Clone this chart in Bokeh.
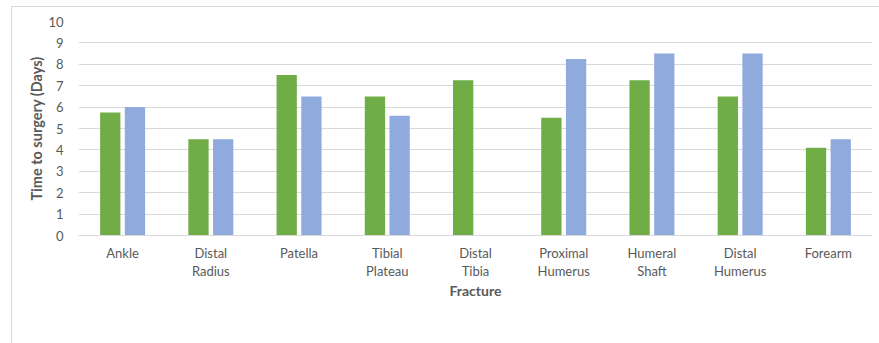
from bokeh.plotting import figure
from bokeh.models import (ColumnDataSource, FactorRange, Range1d, FixedTicker,
                          Legend, LegendItem)
from bokeh.transform import dodge
from bokeh.embed import file_html
from bokeh.resources import INLINE

# Mean time to surgery (days) by fracture type
fractures = ["Ankle", "Distal\nRadius", "Patella", "Tibial\nPlateau", "Distal\nTibia",
             "Proximal\nHumerus", "Humeral\nShaft", "Distal\nHumerus", "Forearm"]
young_adults = [5.75, 4.5, 7.5, 6.5, 7.25, 5.5, 7.25, 6.5, 4.1]
older_adults = [6.0, 4.5, 6.5, 5.6, 0.0, 8.25, 8.5, 8.5, 4.5]
y_ticks = list(range(0, 11))

FONT = "Lato"
GREEN = "#70AD47"
BLUE = "#8FAADC"
GRAY_TEXT = "#595959"
GRID = "#D9D9D9"

src = ColumnDataSource(dict(fracture=fractures, young=young_adults, older=older_adults))

# thin chart-area border (left and top edges), painted behind a transparent canvas border
chart_border = {
    "background-color": "white",
    "background-image": f"linear-gradient({GRID}, {GRID}), linear-gradient({GRID}, {GRID})",
    "background-size": "1px 400px, 900px 1px",
    "background-position": "11px 6px, 11px 6px",
    "background-repeat": "no-repeat",
}

p = figure(frame_width=794, frame_height=214, output_backend="svg", toolbar_location=None,
           x_range=FactorRange(*fractures, range_padding=0),
           y_range=Range1d(0, 10),
           min_border_left=78, min_border_right=7, min_border_top=21, min_border_bottom=0,
           styles=chart_border)
p.outline_line_color = None
p.border_fill_alpha = 0
p.background_fill_color = "white"

r_young = p.vbar(x=dodge("fracture", -0.14, range=p.x_range), top="young", width=0.23,
                 source=src, fill_color=GREEN, line_color=None)
r_older = p.vbar(x=dodge("fracture", 0.14, range=p.x_range), top="older", width=0.23,
                 source=src, fill_color=BLUE, line_color=None)

# grid
p.xgrid.grid_line_color = None
p.ygrid.grid_line_color = GRID
p.ygrid.grid_line_width = 1

# y axis
p.yaxis.ticker = FixedTicker(ticks=y_ticks)
p.yaxis.axis_line_color = None
p.yaxis.major_tick_line_color = None
p.yaxis.minor_tick_line_color = None
p.yaxis.major_label_standoff = 9
p.yaxis.major_label_text_font = FONT
p.yaxis.major_label_text_font_size = "13px"
p.yaxis.major_label_text_color = GRAY_TEXT
p.yaxis.axis_label = "Time to surgery (Days)"
p.yaxis.axis_label_text_font = FONT
p.yaxis.axis_label_text_font_size = "14.5px"
p.yaxis.axis_label_text_font_style = "bold"
p.yaxis.axis_label_text_color = GRAY_TEXT
p.yaxis.axis_label_standoff = 0

# x axis (two-line category names)
p.xaxis.axis_line_color = GRID
p.xaxis.major_tick_line_color = None
p.xaxis.minor_tick_line_color = None
p.xaxis.major_label_standoff = 3
p.xaxis.major_label_text_font = FONT
p.xaxis.major_label_text_font_size = "13px"
p.xaxis.major_label_text_color = GRAY_TEXT
p.xaxis.major_label_text_line_height = 1.15
p.xaxis.axis_label = "Fracture"
p.xaxis.axis_label_text_font = FONT
p.xaxis.axis_label_text_font_size = "14px"
p.xaxis.axis_label_text_font_style = "bold"
p.xaxis.axis_label_text_color = GRAY_TEXT
p.xaxis.axis_label_standoff = 0

# legend under the axis title; a blank title on the right nudges the items left
legend = Legend(items=[LegendItem(label="Young Adults", renderers=[r_young]),
                       LegendItem(label="Older Adults", renderers=[r_older])],
                orientation="horizontal", location="center",
                title=" ", title_location="right", title_text_font_size="10px",
                title_standoff=46,
                label_text_font=FONT, label_text_font_size="12.5px",
                label_text_color=GRAY_TEXT, glyph_width=7, glyph_height=7,
                label_standoff=2, spacing=18, padding=2, margin=0,
                border_line_color=None, background_fill_alpha=0)
p.add_layout(legend, "below")

open("out.html", "w").write(file_html(p, INLINE))
